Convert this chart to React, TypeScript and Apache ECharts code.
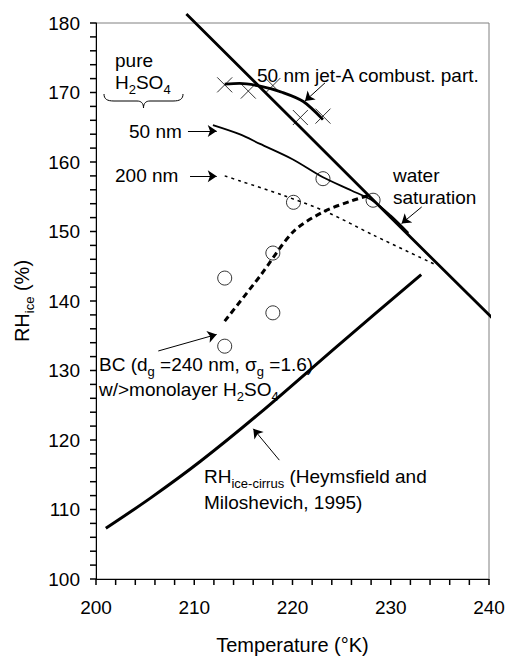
import React, { useEffect, useRef } from "react";
import * as echarts from "echarts";

// Axis ranges (labels every 10)
const X_MIN = 200;
const X_MAX = 240;
const X_STEP = 10;
const Y_MIN = 100;
const Y_MAX = 180;
const Y_STEP = 10;

// Tick positions (every 2 units)
const xTickValues = [200, 202, 204, 206, 208, 210, 212, 214, 216, 218, 220, 222, 224, 226, 228, 230, 232, 234, 236, 238, 240];
const yTickValues = [
  100, 102, 104, 106, 108, 110, 112, 114, 116, 118, 120, 122, 124, 126, 128, 130, 132, 134, 136, 138,
  140, 142, 144, 146, 148, 150, 152, 154, 156, 158, 160, 162, 164, 166, 168, 170, 172, 174, 176, 178, 180,
];

// Water saturation line
const waterSatT = [209.2, 220, 230, 240.8];
const waterSatRH = [181.3, 166.1, 152.0, 136.9];

// 50 nm jet-A combustion particles (fit curve + crosses)
const jetT = [213.1, 214.6, 216.7, 219.0, 221.1, 223.1];
const jetRH = [171.2, 171.3, 170.9, 170.0, 168.7, 166.1];
const crossT = [213.1, 215.5, 218.0, 220.8, 223.1];
const crossRH = [171.1, 170.2, 171.0, 166.4, 166.6];

// pure H2SO4, 50 nm
const h50T = [211.9, 214.6, 216.7, 220.0, 223.1, 226.0, 228.2, 230.0, 231.8];
const h50RH = [165.3, 164.0, 162.6, 160.4, 157.8, 155.9, 154.4, 152.3, 149.8];

// pure H2SO4, 200 nm
const h200T = [213.1, 214.6, 219.05, 223.5, 228.2, 234.6];
const h200RH = [158.0, 157.3, 155.2, 152.8, 149.5, 145.2];

// BC w/ monolayer H2SO4
const bcT = [213.1, 216.7, 220.1, 223.1, 226.0, 227.8];
const bcRH = [137.1, 143.6, 150.0, 152.8, 154.4, 155.2];

// Open circles
const circleT = [213.1, 213.1, 218.0, 218.0, 220.1, 223.1, 228.2];
const circleRH = [143.3, 133.5, 146.9, 138.3, 154.2, 157.6, 154.5];

// RH ice-cirrus (Heymsfield and Miloshevich, 1995)
const hmT = [201.0, 205.5, 210.6, 216.7, 224.8, 233.1];
const hmRH = [107.3, 111.6, 116.9, 123.9, 133.8, 143.8];

// Annotation arrows (data coordinates: from -> to)
const arrowFromT = [209.36, 209.57, 223.31, 233.15, 206.34, 218.66];
const arrowFromRH = [164.47, 157.96, 171.39, 153.53, 132.81, 117.1];
const arrowToT = [212.29, 212.29, 221.27, 231.1, 212.28, 216.01];
const arrowToRH = [164.47, 157.96, 168.76, 151.14, 135.19, 121.61];

const zip = (xs: number[], ys: number[]) => xs.map((x, i) => [x, ys[i]]);

const FONT = "'Liberation Sans', Arial, sans-serif";

echarts.graphic.registerShape(
  "brace",
  echarts.graphic.extendPath(
    "M0,0 C0,5 3,7 10,7 L33,7 C37,7 39.5,9 39.5,14 C39.5,9 42,7 46,7 L69,7 C76,7 79,5 79,0",
    {}
  )
);

const richMain = { fontSize: 19, fontFamily: FONT, color: "#000", padding: [0, 0, 4, 0], verticalAlign: "bottom" };
const richSub = { fontSize: 13, fontFamily: FONT, color: "#000", verticalAlign: "bottom" };

function txt(text: string, x: number, y: number, rich = false) {
  const style: any = {
    text,
    x: 0,
    y: 0,
    fill: "#000",
    fontSize: 19,
    fontFamily: FONT,
    align: "left",
    verticalAlign: "middle",
  };
  if (rich) {
    style.rich = { a: richMain, s: richSub };
  }
  return { type: "text", x, y: rich ? y + 1 : y, style, z: 100 };
}

export default function App() {
  const ref = useRef<HTMLDivElement>(null);
  useEffect(() => {
    if (!ref.current) return;
    const chart = echarts.init(ref.current, undefined, { renderer: "svg" });
    const annotations: any[] = [
      txt("pure", 115, 60),
      txt("{a|H}{s|2}{a|SO}{s|4}", 115, 83, true),
      {
        type: "brace",
        x: 104,
        y: 94,
        style: { stroke: "#000", fill: null, lineWidth: 1 },
        z: 100,
      },
      txt("50 nm", 129, 131),
      txt("200 nm", 115, 175),
      txt("50 nm jet-A combust. part.", 257, 75),
      txt("water", 393, 175),
      txt("saturation", 393, 197),
      txt("{a|BC (d}{s|g}{a| =240 nm, σ}{s|g}{a| =1.6)}", 99, 365, true),
      txt("{a|w/>monolayer H}{s|2}{a|SO}{s|4}", 99, 390, true),
      txt("{a|RH}{s|ice-cirrus}{a| (Heymsfield and}", 204, 477, true),
      txt("Miloshevich, 1995)", 204, 502),
    ];
    chart.setOption({
      animation: false,
      backgroundColor: "#fff",
      textStyle: { fontFamily: FONT, color: "#000" },
      grid: {
        left: 96,
        right: 19,
        top: 23,
        bottom: 77,
        show: true,
        borderColor: "#808080",
        borderWidth: 1,
      },
      xAxis: {
        type: "value",
        min: X_MIN,
        max: X_MAX,
        interval: X_STEP,
        name: "Temperature (°K)",
        nameLocation: "middle",
        nameGap: 56,
        nameTextStyle: { fontSize: 20, color: "#000", fontFamily: FONT },
        axisLine: { show: true, lineStyle: { color: "#000", width: 1 } },
        axisTick: { show: false },
        axisLabel: { show: true, fontSize: 19, color: "#000", margin: 19, fontFamily: FONT },
        splitLine: { show: false },
      },
      yAxis: {
        type: "value",
        min: Y_MIN,
        max: Y_MAX,
        interval: Y_STEP,
        name: "{a|RH}{s|ice}{a| (%)}",
        nameLocation: "middle",
        nameGap: 60,
        nameTextStyle: { fontSize: 20, color: "#000", fontFamily: FONT, rich: { a: { ...richMain, fontSize: 20 }, s: richSub } },
        axisLine: { show: true, lineStyle: { color: "#000", width: 1 } },
        axisTick: { show: false },
        axisLabel: { show: true, fontSize: 19, color: "#000", margin: 16, fontFamily: FONT },
        splitLine: { show: false },
      },
      series: [
        {
          name: "water saturation",
          type: "line",
          data: zip(waterSatT, waterSatRH),
          symbol: "none",
          clip: false,
          lineStyle: { color: "#000", width: 2.8 },
        },
        {
          name: "jet-A",
          type: "line",
          data: zip(jetT, jetRH),
          symbol: "none",
          smooth: 0.3,
          lineStyle: { color: "#000", width: 2.8 },
        },
        {
          name: "jet-A crosses",
          type: "scatter",
          data: zip(crossT, crossRH),
          symbol: "path://M0,0L10,10M10,0L0,10",
          symbolSize: 15,
          itemStyle: { color: "none", borderColor: "#000", borderWidth: 1 },
        },
        {
          name: "50 nm",
          type: "line",
          data: zip(h50T, h50RH),
          symbol: "none",
          smooth: 0.3,
          lineStyle: { color: "#000", width: 1.8 },
        },
        {
          name: "200 nm",
          type: "line",
          data: zip(h200T, h200RH),
          symbol: "none",
          smooth: 0.3,
          lineStyle: { color: "#000", width: 1.5, type: [3, 4] },
        },
        {
          name: "BC",
          type: "line",
          data: zip(bcT, bcRH),
          symbol: "none",
          smooth: 0.3,
          lineStyle: { color: "#000", width: 3, type: [6, 4] },
        },
        {
          name: "circles",
          type: "scatter",
          data: zip(circleT, circleRH),
          symbol: "circle",
          symbolSize: 14,
          itemStyle: { color: "rgba(0,0,0,0)", borderColor: "#000", borderWidth: 1 },
        },
        {
          name: "RH ice-cirrus",
          type: "line",
          data: zip(hmT, hmRH),
          symbol: "none",
          smooth: 0.3,
          lineStyle: { color: "#000", width: 3 },
        },
        {
          name: "arrows",
          type: "lines",
          coordinateSystem: "cartesian2d",
          symbol: ["none", "arrow"],
          symbolSize: 9,
          lineStyle: { color: "#000", width: 1, opacity: 1 },
          data: arrowFromT.map((t, i) => ({
            coords: [
              [t, arrowFromRH[i]],
              [arrowToT[i], arrowToRH[i]],
            ],
          })),
          z: 10,
        },
      ],
      graphic: annotations,
    });

    // Tick marks every 2 units, placed through the axes' own scales
    const ticks: any[] = [];
    xTickValues.forEach((v) => {
      const p = chart.convertToPixel({ gridIndex: 0 }, [v, Y_MIN]) as number[];
      ticks.push({
        type: "rect",
        shape: { x: p[0] - 0.75, y: p[1], width: 1.5, height: 6 },
        style: { fill: "#000" },
        z: 50,
      });
    });
    yTickValues.forEach((v) => {
      const p = chart.convertToPixel({ gridIndex: 0 }, [X_MIN, v]) as number[];
      ticks.push({
        type: "rect",
        shape: { x: p[0] - 6, y: p[1] - 0.75, width: 6, height: 1.5 },
        style: { fill: "#000" },
        z: 50,
      });
    });
    chart.setOption({ graphic: [...annotations, ...ticks] });

    return () => chart.dispose();
  }, []);
  return (
    <div
      ref={ref}
      style={{ position: "fixed", left: 0, top: 0, width: 508, height: 660, background: "#fff" }}
    />
  );
}
